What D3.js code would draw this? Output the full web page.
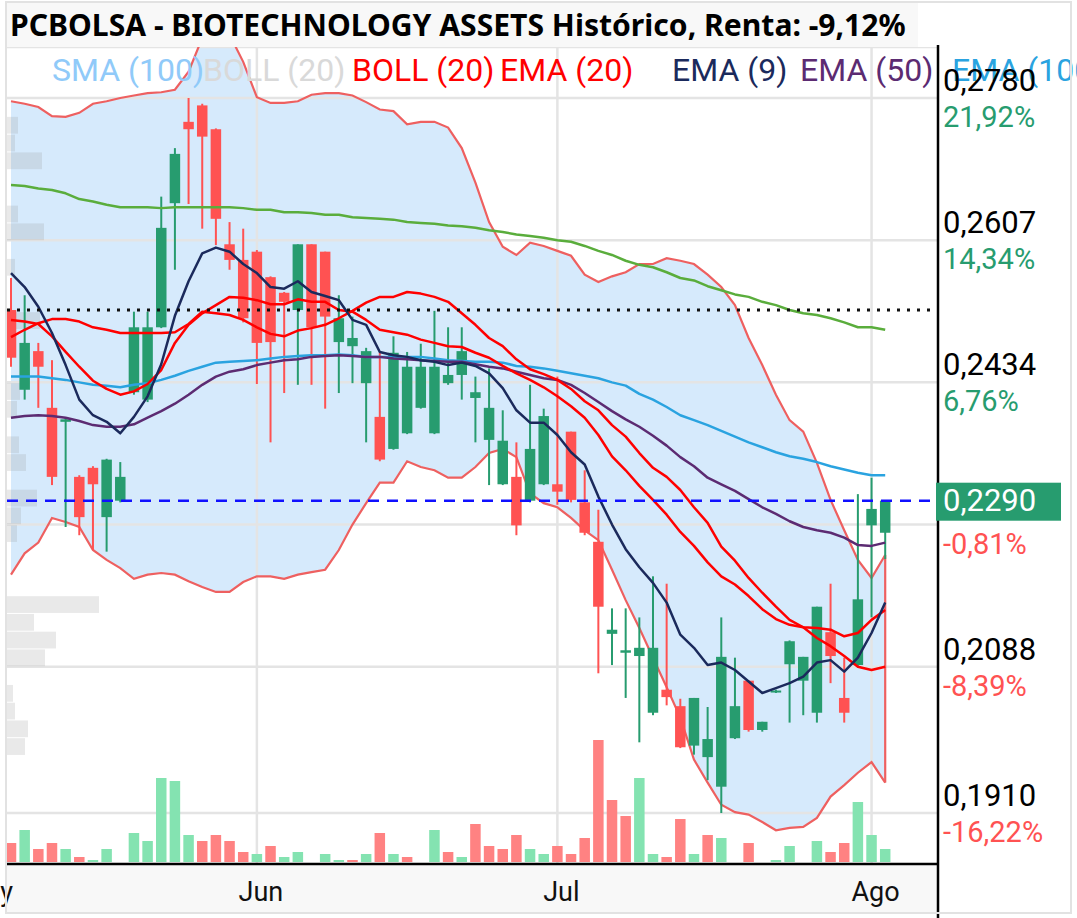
<!DOCTYPE html>
<html><head><meta charset="utf-8">
<script src="https://cdn.jsdelivr.net/npm/d3@7"></script>
<style>body{margin:0;background:#fff}svg{display:block}</style>
</head><body>
<svg id="c" width="1077" height="918"></svg>
<script>
// ---------------- DATA ----------------
const title = "PCBOLSA - BIOTECHNOLOGY ASSETS Histórico, Renta: -9,12%";
const openP  = [0.2522,0.2425,0.2472,0.2403,0.2386,0.2319,0.2330,0.2270,0.2290,0.2422,0.2413,0.2501,0.2652,0.2751,0.2771,0.2742,0.2602,0.2583,0.2593,0.2562,0.2543,0.2522,0.2602,0.2593,0.2483,0.2478,0.2433,0.2392,0.2353,0.2372,0.2403,0.2372,0.2433,0.2443,0.2415,0.2364,0.2310,0.2319,0.2290,0.2310,0.2310,0.2374,0.2288,0.2240,0.2128,0.2105,0.2101,0.2032,0.2060,0.2040,0.1992,0.1978,0.1942,0.2001,0.2071,0.2011,0.2058,0.2091,0.2071,0.2032,0.2130,0.2050,0.2090,0.2260,0.2251];
const highP  = [0.2561,0.2540,0.2482,0.2461,0.2391,0.2321,0.2332,0.2341,0.2337,0.2520,0.2520,0.2660,0.2719,0.2780,0.2773,0.2743,0.2629,0.2621,0.2595,0.2563,0.2544,0.2602,0.2602,0.2593,0.2540,0.2514,0.2476,0.2470,0.2490,0.2471,0.2481,0.2521,0.2501,0.2501,0.2441,0.2451,0.2400,0.2361,0.2431,0.2402,0.2441,0.2374,0.2327,0.2279,0.2159,0.2159,0.2148,0.2198,0.2189,0.2049,0.2050,0.2039,0.2148,0.2099,0.2071,0.2021,0.2060,0.2120,0.2100,0.2161,0.2189,0.2099,0.2298,0.2318,0.2290];
const lowP   = [0.2453,0.2413,0.2403,0.2309,0.2258,0.2248,0.2230,0.2228,0.2288,0.2419,0.2410,0.2500,0.2571,0.2651,0.2621,0.2601,0.2571,0.2507,0.2432,0.2361,0.2421,0.2431,0.2431,0.2402,0.2421,0.2433,0.2361,0.2338,0.2352,0.2371,0.2402,0.2371,0.2431,0.2413,0.2361,0.2309,0.2309,0.2248,0.2288,0.2309,0.2285,0.2288,0.2248,0.2080,0.2090,0.2050,0.1996,0.2029,0.2041,0.1989,0.1981,0.1950,0.1910,0.2000,0.2009,0.2009,0.2056,0.2020,0.2029,0.2020,0.2068,0.2020,0.2089,0.2148,0.2219];
const closeP = [0.2464,0.2482,0.2453,0.2319,0.2389,0.2270,0.2310,0.2340,0.2319,0.2501,0.2501,0.2622,0.2712,0.2742,0.2733,0.2633,0.2583,0.2512,0.2482,0.2483,0.2532,0.2602,0.2501,0.2514,0.2512,0.2488,0.2472,0.2340,0.2470,0.2453,0.2453,0.2453,0.2443,0.2472,0.2422,0.2403,0.2363,0.2260,0.2353,0.2393,0.2301,0.2291,0.2251,0.2161,0.2133,0.2108,0.2111,0.2111,0.2051,0.1990,0.2050,0.2000,0.2100,0.2040,0.2011,0.2021,0.2059,0.2119,0.2100,0.2161,0.2101,0.2032,0.2170,0.2280,0.2290];
const volumeK = [19,32,13,19,13,5,2,13,0,29,21,84,81,27,21,27,21,10,8,16,5,10,0,8,2,2,8,29,8,5,0,32,10,5,38,16,13,27,13,8,16,8,24,122,62,46,84,8,5,43,8,27,24,0,19,0,2,16,0,21,10,19,60,27,13];
const volumeUp = [0,1,0,0,1,0,1,1,1,1,1,1,1,1,0,0,0,0,1,0,1,1,1,1,1,0,1,0,1,0,1,1,0,1,0,0,0,0,1,1,0,0,0,0,0,0,1,1,0,0,1,0,1,1,0,1,1,1,1,1,0,0,1,1,1];

const smaGreen = [0.2674,0.2673,0.2670,0.2668,0.2664,0.2657,0.2654,0.2650,0.2647,0.2647,0.2647,0.2646,0.2647,0.2647,0.2647,0.2647,0.2647,0.2646,0.2644,0.2644,0.2641,0.2641,0.2640,0.2638,0.2638,0.2635,0.2634,0.2633,0.2632,0.2629,0.2628,0.2627,0.2625,0.2624,0.2622,0.2619,0.2617,0.2614,0.2612,0.2610,0.2607,0.2605,0.2600,0.2594,0.2589,0.2582,0.2577,0.2574,0.2568,0.2561,0.2558,0.2551,0.2546,0.2541,0.2538,0.2532,0.2528,0.2522,0.2518,0.2516,0.2512,0.2507,0.2501,0.2501,0.2498];
const bollUpper = [0.2776,0.2773,0.2769,0.2758,0.2757,0.2762,0.2773,0.2776,0.2780,0.2783,0.2786,0.2787,0.2790,0.2812,0.2853,0.2863,0.2857,0.2824,0.2781,0.2774,0.2774,0.2776,0.2784,0.2786,0.2786,0.2783,0.2775,0.2766,0.2764,0.2748,0.2751,0.2751,0.2744,0.2719,0.2677,0.2629,0.2599,0.2589,0.2604,0.2600,0.2594,0.2588,0.2565,0.2556,0.2563,0.2568,0.2578,0.2578,0.2585,0.2582,0.2578,0.2565,0.2550,0.2528,0.2488,0.2455,0.2419,0.2388,0.2374,0.2336,0.2291,0.2254,0.2218,0.2196,0.2224];
const bollLower = [0.2200,0.2226,0.2239,0.2269,0.2264,0.2258,0.2230,0.2218,0.2208,0.2195,0.2200,0.2202,0.2200,0.2192,0.2185,0.2179,0.2179,0.2191,0.2198,0.2198,0.2195,0.2200,0.2203,0.2206,0.2230,0.2261,0.2287,0.2312,0.2312,0.2338,0.2331,0.2327,0.2318,0.2318,0.2331,0.2348,0.2353,0.2343,0.2299,0.2287,0.2282,0.2269,0.2254,0.2242,0.2206,0.2169,0.2135,0.2099,0.2063,0.2026,0.1975,0.1947,0.1920,0.1911,0.1908,0.1899,0.1889,0.1892,0.1893,0.1904,0.1930,0.1944,0.1959,0.1972,0.1947];
const bollMid = [0.2489,0.2498,0.2506,0.2511,0.2511,0.2508,0.2501,0.2498,0.2494,0.2494,0.2494,0.2494,0.2495,0.2505,0.2520,0.2518,0.2516,0.2510,0.2501,0.2493,0.2490,0.2497,0.2500,0.2504,0.2512,0.2521,0.2531,0.2538,0.2538,0.2544,0.2542,0.2538,0.2532,0.2518,0.2504,0.2488,0.2478,0.2462,0.2450,0.2444,0.2437,0.2426,0.2411,0.2400,0.2382,0.2368,0.2348,0.2330,0.2319,0.2303,0.2282,0.2263,0.2234,0.2217,0.2196,0.2178,0.2161,0.2145,0.2136,0.2123,0.2113,0.2101,0.2088,0.2084,0.2088];
const ema20 = [0.2510,0.2508,0.2505,0.2490,0.2471,0.2453,0.2436,0.2426,0.2419,0.2423,0.2432,0.2449,0.2482,0.2504,0.2518,0.2528,0.2538,0.2537,0.2534,0.2529,0.2529,0.2535,0.2532,0.2532,0.2522,0.2520,0.2510,0.2498,0.2495,0.2492,0.2486,0.2482,0.2478,0.2477,0.2470,0.2464,0.2454,0.2445,0.2437,0.2428,0.2417,0.2405,0.2391,0.2370,0.2344,0.2327,0.2308,0.2291,0.2273,0.2252,0.2235,0.2215,0.2198,0.2188,0.2174,0.2158,0.2146,0.2139,0.2136,0.2135,0.2133,0.2125,0.2129,0.2145,0.2157];
const ema9 = [0.2567,0.2550,0.2526,0.2494,0.2455,0.2413,0.2394,0.2386,0.2372,0.2392,0.2417,0.2456,0.2515,0.2557,0.2591,0.2598,0.2593,0.2578,0.2567,0.2550,0.2548,0.2557,0.2544,0.2539,0.2534,0.2510,0.2504,0.2471,0.2467,0.2465,0.2461,0.2459,0.2455,0.2458,0.2454,0.2445,0.2427,0.2400,0.2385,0.2385,0.2370,0.2349,0.2334,0.2295,0.2261,0.2231,0.2209,0.2190,0.2166,0.2127,0.2111,0.2090,0.2093,0.2084,0.2070,0.2056,0.2062,0.2068,0.2076,0.2093,0.2096,0.2082,0.2099,0.2129,0.2166];
const ema50 = [0.2391,0.2393,0.2394,0.2393,0.2391,0.2387,0.2382,0.2380,0.2380,0.2383,0.2391,0.2399,0.2408,0.2419,0.2431,0.2441,0.2447,0.2450,0.2455,0.2458,0.2461,0.2462,0.2465,0.2466,0.2467,0.2466,0.2465,0.2465,0.2463,0.2462,0.2461,0.2460,0.2459,0.2459,0.2456,0.2453,0.2451,0.2447,0.2443,0.2439,0.2437,0.2431,0.2421,0.2410,0.2399,0.2389,0.2380,0.2369,0.2357,0.2343,0.2332,0.2318,0.2310,0.2302,0.2292,0.2282,0.2274,0.2265,0.2258,0.2254,0.2251,0.2245,0.2236,0.2235,0.2239];
const ema100 = [0.2441,0.2441,0.2441,0.2439,0.2437,0.2434,0.2431,0.2430,0.2428,0.2431,0.2433,0.2437,0.2442,0.2448,0.2453,0.2458,0.2459,0.2460,0.2461,0.2463,0.2465,0.2466,0.2467,0.2467,0.2468,0.2467,0.2465,0.2465,0.2465,0.2465,0.2465,0.2463,0.2461,0.2460,0.2459,0.2459,0.2458,0.2454,0.2453,0.2451,0.2448,0.2445,0.2442,0.2439,0.2434,0.2430,0.2420,0.2413,0.2404,0.2394,0.2388,0.2382,0.2375,0.2368,0.2361,0.2355,0.2349,0.2344,0.2341,0.2337,0.2332,0.2328,0.2324,0.2321,0.2321];

const monthLabels = ["May","Jun","Jul","Ago"];
const monthStartIndex = [-2, 18, 40, 63];
const priceTicks = [0.2780, 0.2607, 0.2434, 0.2261, 0.2088, 0.1910];
const priceTickLabels = ["0,2780","0,2607","0,2434","0,2261","0,2088","0,1910"];
const pctTickLabels = ["21,92%","14,34%","6,76%","-0,81%","-8,39%","-16,22%"];
const lastPrice = 0.2290, lastPriceLabel = "0,2290";
const refLevel = 0.2522;
const profileTop = 0.2757, profileStep = 0.00216;
const profileVolume = [11,8,35,0,0,11,37,0,8,0,0,33,0,0,0,13,10,0,12,19,0,30,14,10,0,0,0,92,27,49,38,0,6,8,21,18];
const legendItems = [
  {label:"SMA (100)", color:"#90caf9"},
  {label:"BOLL (20)", color:"#d9d9d9"},
  {label:"BOLL (20)", color:"#ff0000"},
  {label:"EMA (20)", color:"#ff0000"},
  {label:"EMA (9)", color:"#1b2a5c"},
  {label:"EMA (50)", color:"#5c2b72"},
  {label:"EMA (100)", color:"#2aa3e0"}
];

// ---------------- LAYOUT ----------------
const svg = d3.select("#c");
const L = 7, R = 938, T = 47, B = 863;
const n = closeP.length;
const x = d3.scaleLinear().domain([0, n - 1]).range([11, 885.2]);
const y = d3.scaleLinear().domain([0.1910, 0.2780]).range([813, 98]);
const yVol = d3.scaleLinear().domain([0, d3.max(volumeK)]).range([862, 740]);
const wProf = d3.scaleLinear().domain([0, d3.max(profileVolume)]).range([0, 92]);
const UP = "#279c6f", DN = "#ff5252";
const font = "Roboto, 'Noto Sans', sans-serif";

svg.append("rect").attr("width",1077).attr("height",918).attr("fill","#fff");
svg.append("rect").attr("x",L).attr("y",B+2).attr("width",R-L).attr("height",913-B-2).attr("fill","#f8f8f8");

const defs = svg.append("defs");
defs.append("clipPath").attr("id","plotclip").append("rect").attr("x",L).attr("y",T).attr("width",R-L).attr("height",B-T);
const g = svg.append("g").attr("clip-path","url(#plotclip)");

// Bollinger fill
const idx = d3.range(n);
const area = d3.area().x(i=>x(i)).y0(i=>y(bollLower[i])).y1(i=>y(bollUpper[i]));
g.append("path").datum(idx).attr("d",area).attr("fill","#d6eafc");

// grid
g.selectAll(".hg").data(priceTicks).join("line").attr("x1",L).attr("x2",R)
  .attr("y1",d=>y(d)).attr("y2",d=>y(d)).attr("stroke","#e4e4e4").attr("stroke-width",2.5);
g.selectAll(".vg").data(monthStartIndex).join("line").attr("y1",T).attr("y2",B)
  .attr("x1",d=>x(d)).attr("x2",d=>x(d)).attr("stroke","#e4e4e4").attr("stroke-width",2.5);
g.append("line").attr("x1",L).attr("x2",R).attr("y1",T).attr("y2",T).attr("stroke","#e4e4e4").attr("stroke-width",2.5);

// volume profile
g.selectAll(".prof").data(profileVolume).join("rect")
  .attr("x",L).attr("y",(d,k)=>y(profileTop - k*profileStep))
  .attr("width",d=>wProf(d))
  .attr("height",(d,k)=>y(profileTop-(k+1)*profileStep)-y(profileTop-k*profileStep)-1)
  .attr("fill","#8f8f8f").attr("fill-opacity",0.2);

// volume bars
const bw = 10.5;
g.selectAll(".vol").data(volumeK).join("rect")
  .attr("x",(d,i)=>x(i)-bw/2).attr("y",d=>yVol(d)).attr("width",bw)
  .attr("height",d=>yVol(0)-yVol(d))
  .attr("fill",(d,i)=>volumeUp[i]? "#84e3b1":"#ff8282");

// BB strokes
const lineOf = arr => d3.line().x((d,i)=>x(i)).y(d=>y(d))(arr);
const bbStroke = "#ee6060";
g.append("path").attr("d",lineOf(bollUpper)).attr("fill","none").attr("stroke",bbStroke).attr("stroke-width",2.2);
g.append("path").attr("d",lineOf(bollLower)).attr("fill","none").attr("stroke",bbStroke).attr("stroke-width",2.2);
g.append("line").attr("x1",x(n-1)).attr("x2",x(n-1)).attr("y1",y(bollUpper[n-1])).attr("y2",y(bollLower[n-1])).attr("stroke",bbStroke).attr("stroke-width",2.2);

// candles
const cg = g.append("g");
idx.forEach(i=>{
  const up = closeP[i] >= openP[i];
  const col = up ? UP : DN;
  cg.append("line").attr("x1",x(i)).attr("x2",x(i)).attr("y1",y(highP[i])).attr("y2",y(lowP[i]))
    .attr("stroke",col).attr("stroke-width",2);
  const top = y(Math.max(openP[i],closeP[i])), bot = y(Math.min(openP[i],closeP[i]));
  cg.append("rect").attr("x",x(i)-bw/2).attr("y",top).attr("width",bw).attr("height",Math.max(2,bot-top)).attr("fill",col);
});

// indicator lines
const lines = [
  [smaGreen,"#5aad3c"],[ema100,"#2aa3e0"],[ema50,"#5c2b72"],[bollMid,"#ff0000"],[ema20,"#ff0000"],[ema9,"#1b2a5c"]
];
lines.forEach(([arr,col])=>{
  g.append("path").attr("d",lineOf(arr)).attr("fill","none").attr("stroke",col).attr("stroke-width",2.5).attr("stroke-linejoin","round");
});

// reference lines
g.append("line").attr("x1",L).attr("x2",R).attr("y1",y(refLevel)).attr("y2",y(refLevel))
  .attr("stroke","#111").attr("stroke-width",3).attr("stroke-dasharray","3,7");
g.append("line").attr("x1",L).attr("x2",R).attr("y1",y(lastPrice)).attr("y2",y(lastPrice))
  .attr("stroke","#1010ff").attr("stroke-width",2.5).attr("stroke-dasharray","11,8");

// legend
const legendX = [52, 203, 352, 500, 672, 800, 952];
svg.selectAll(".leg").data(legendItems).join("text")
  .attr("x",(d,i)=>legendX[i]).attr("y",81).attr("fill",d=>d.color)
  .attr("font-family",font).attr("font-size",32).text(d=>d.label);

// axes lines
svg.append("line").attr("x1",R).attr("x2",R).attr("y1",45).attr("y2",918).attr("stroke","#000").attr("stroke-width",2.5);
svg.append("line").attr("x1",L).attr("x2",R).attr("y1",B+1).attr("y2",B+1).attr("stroke","#000").attr("stroke-width",2.5);

// right labels (the tick that sits under the last-price tag is covered, as in the source)
const hidden = d => Math.abs(y(d) - y(lastPrice)) < 30;
svg.selectAll(".pl").data(priceTicks.filter(d=>!hidden(d))).join("text")
  .attr("x",943).attr("y",d=>y(d)-7).attr("font-family",font).attr("font-size",31).attr("fill","#000")
  .text(d=>priceTickLabels[priceTicks.indexOf(d)]);
svg.selectAll(".pp").data(priceTicks).join("text")
  .attr("x",943).attr("y",d=>y(d)+29).attr("font-family",font).attr("font-size",29)
  .attr("fill",(d,i)=>pctTickLabels[i].startsWith("-")? DN : UP)
  .text((d,i)=>pctTickLabels[i]);

// current price label
svg.append("rect").attr("x",936).attr("y",y(lastPrice)-18).attr("width",125).attr("height",38).attr("fill",UP);
svg.append("text").attr("x",943).attr("y",y(lastPrice)+10).attr("font-family",font).attr("font-size",31)
  .attr("fill","#fff").text(lastPriceLabel);

// x axis labels
svg.selectAll(".ml").data(monthLabels).join("text")
  .attr("x",(d,i)=>x(monthStartIndex[i])+4).attr("y",901).attr("text-anchor","middle")
  .attr("font-family",font).attr("font-size",27).attr("fill","#111").text(d=>d);

// title
svg.append("rect").attr("x",L).attr("y",3).attr("width",918-L).attr("height",T-3).attr("fill","#f8f8f8");
const tt = svg.append("text").attr("x",10).attr("y",36).attr("font-family","'Noto Sans', 'Open Sans', sans-serif")
  .attr("font-weight",700).attr("font-size",26).attr("fill","#000").text(title);
const tw = tt.node().getComputedTextLength();
tt.attr("font-size", 26*896/tw);

// frame
svg.append("rect").attr("x",6).attr("y",2).attr("width",1065).attr("height",911).attr("fill","none").attr("stroke","#e2e2e2").attr("stroke-width",2);
</script>
</body></html>
